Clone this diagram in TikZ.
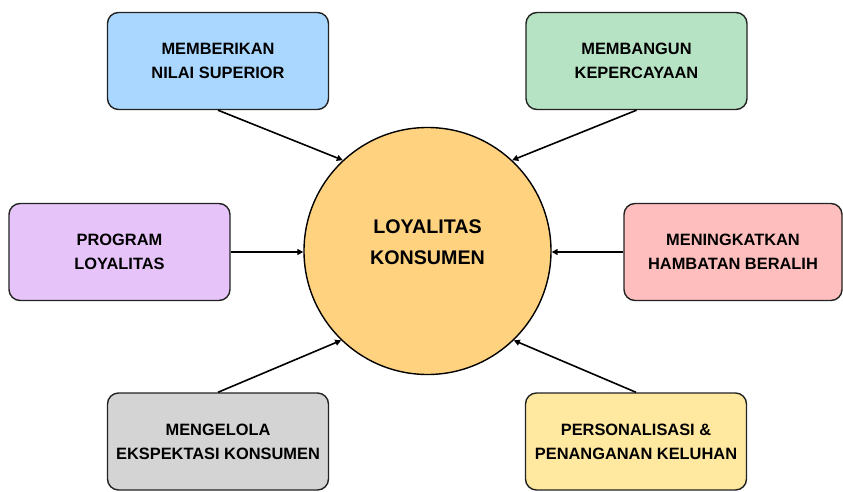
\documentclass[tikz,border=0pt]{standalone}
\usepackage{fontspec}
\setmainfont{Liberation Sans}
\usetikzlibrary{arrows.meta}
\definecolor{cblue}{HTML}{A9D7FF}
\definecolor{cgreen}{HTML}{B7E3C5}
\definecolor{cpurple}{HTML}{E6C4FA}
\definecolor{cpink}{HTML}{FFBEBE}
\definecolor{cgray}{HTML}{D4D4D4}
\definecolor{cyellow}{HTML}{FFE89F}
\definecolor{corange}{HTML}{FFD27F}
\definecolor{cline}{HTML}{222222}
\tikzset{
  factor/.style={draw=cline, line width=1.4pt, rounded corners=11pt,
    minimum width=221pt, minimum height=97pt, inner sep=0pt,
    align=center, font=\fontsize{16.4}{24}\selectfont\bfseries},
  core/.style={circle, draw=black, line width=1.4pt, fill=corange,
    minimum size=247pt, inner sep=0pt},
  coretext/.style={align=center, font=\fontsize{19.7}{31}\selectfont\bfseries},
  link/.style={line width=1.6pt, draw=black, -{Triangle[length=6pt,width=6pt]}}
}
\begin{document}
\begin{tikzpicture}[x=1pt,y=-1pt]
\useasboundingbox (0,0) rectangle (843,492);
% central node
\node[core] (c) at (427.5,251) {};
\node[coretext] (ct) at (427.5,242.5) {LOYALITAS\\KONSUMEN};
% surrounding factors
\node[factor, fill=cblue]   (tl) at (218,61)    {MEMBERIKAN\\NILAI SUPERIOR};
\node[factor, fill=cgreen]  (tr) at (636.5,61)  {MEMBANGUN\\KEPERCAYAAN};
\node[factor, fill=cpurple] (ml) at (119.5,252) {PROGRAM\\LOYALITAS};
\node[factor, fill=cpink, minimum width=218pt] (mr) at (733,252) {MENINGKATKAN\\HAMBATAN BERALIH};
\node[factor, fill=cgray]   (bl) at (218,441.5) {MENGELOLA\\EKSPEKTASI KONSUMEN};
\node[factor, fill=cyellow] (br) at (636,441.5) {PERSONALISASI \&\\PENANGANAN KELUHAN};
% connectors into the centre
\draw[link] (tl.south) -- (c.133);
\draw[link] (tr.south) -- (c.47);
\draw[link] (ml.east)  -- (ml.east -| c.west);
\draw[link] (mr.west)  -- (mr.west -| c.east);
\draw[link] (bl.north) -- (c.226);
\draw[link] (br.north) -- (c.-46);
\end{tikzpicture}
\end{document}
